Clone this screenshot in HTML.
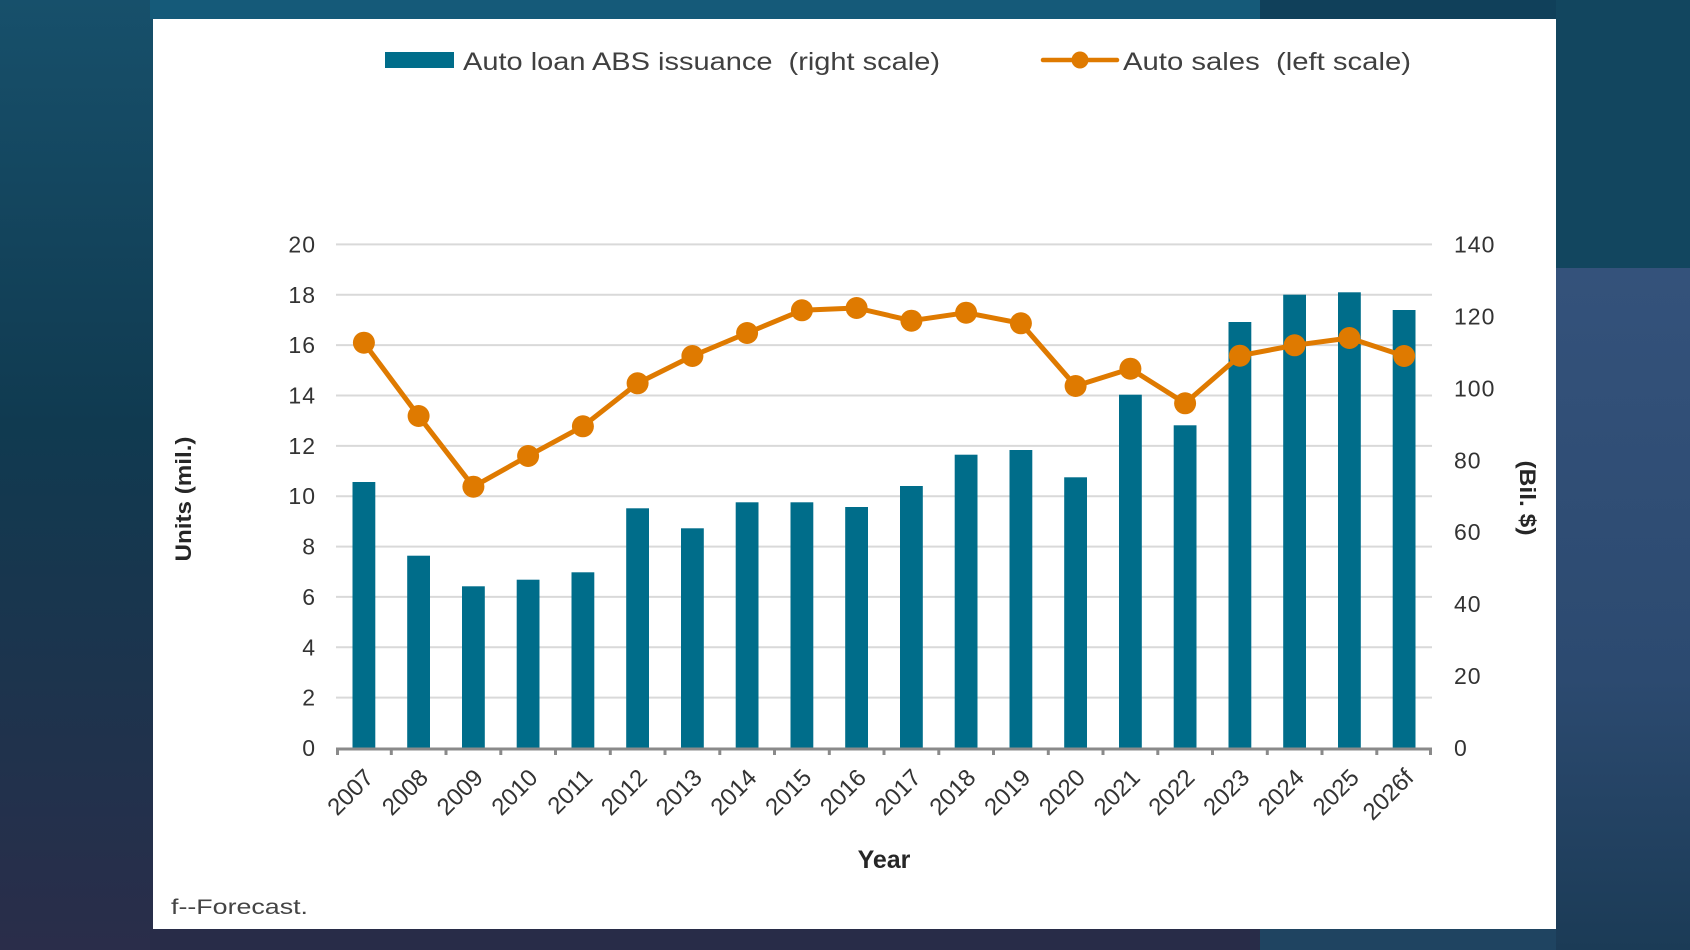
<!DOCTYPE html>
<html><head><meta charset="utf-8">
<style>
html,body{margin:0;padding:0;width:1690px;height:950px;overflow:hidden;background:#1a3a52;}
svg{display:block;}
text{font-family:"Liberation Sans",sans-serif;}
</style></head>
<body>
<svg width="1690" height="950" viewBox="0 0 1690 950" xmlns="http://www.w3.org/2000/svg">
<defs>
<linearGradient id="bgL" x1="0" y1="0" x2="0" y2="1">
<stop offset="0" stop-color="#17506b"/>
<stop offset="0.45" stop-color="#103a50"/>
<stop offset="1" stop-color="#2a2d4a"/>
</linearGradient>
<linearGradient id="bgR" x1="0" y1="0" x2="0" y2="1">
<stop offset="0" stop-color="#34527b"/>
<stop offset="0.6" stop-color="#2c4a70"/>
<stop offset="1" stop-color="#1b3b56"/>
</linearGradient>
</defs>
<rect x="0" y="0" width="1690" height="950" fill="url(#bgL)"/>
<rect x="150" y="0" width="1110" height="19" fill="#155a79"/>
<rect x="1260" y="0" width="430" height="19" fill="#10405a"/>
<rect x="1556" y="0" width="134" height="268" fill="#12465f"/>
<rect x="1556" y="268" width="134" height="682" fill="url(#bgR)"/>
<rect x="150" y="929" width="1110" height="21" fill="#282c48"/>
<rect x="1260" y="929" width="296" height="21" fill="#1f4461"/>

<!-- card -->
<rect x="153" y="19" width="1403" height="910" fill="#ffffff"/>

<!-- legend -->
<rect x="385" y="52" width="69" height="16" fill="#006d8a"/>
<text x="463" y="70" font-size="25" fill="#404040" textLength="477" lengthAdjust="spacingAndGlyphs" style="white-space:pre" xml:space="preserve">Auto loan ABS issuance  (right scale)</text>
<line x1="1043" y1="60" x2="1117" y2="60" stroke="#df7a00" stroke-width="4.5" stroke-linecap="round"/>
<circle cx="1080" cy="60" r="8.5" fill="#df7a00"/>
<text x="1123" y="70" font-size="25" fill="#404040" textLength="288" lengthAdjust="spacingAndGlyphs" style="white-space:pre" xml:space="preserve">Auto sales  (left scale)</text>

<!-- gridlines -->
<g stroke="#d9d9d9" stroke-width="2">
<line x1="336" y1="244.4" x2="1432" y2="244.4"/>
<line x1="336" y1="294.8" x2="1432" y2="294.8"/>
<line x1="336" y1="345.1" x2="1432" y2="345.1"/>
<line x1="336" y1="395.5" x2="1432" y2="395.5"/>
<line x1="336" y1="445.9" x2="1432" y2="445.9"/>
<line x1="336" y1="496.2" x2="1432" y2="496.2"/>
<line x1="336" y1="546.6" x2="1432" y2="546.6"/>
<line x1="336" y1="596.9" x2="1432" y2="596.9"/>
<line x1="336" y1="647.3" x2="1432" y2="647.3"/>
<line x1="336" y1="697.6" x2="1432" y2="697.6"/>
</g>

<!-- bars -->
<g fill="#006d8a">
<rect x="352.5" y="482" width="22.8" height="266"/>
<rect x="407.2" y="555.7" width="22.8" height="192.3"/>
<rect x="462" y="586.3" width="22.8" height="161.7"/>
<rect x="516.7" y="579.7" width="22.8" height="168.3"/>
<rect x="571.5" y="572.3" width="22.8" height="175.7"/>
<rect x="626.2" y="508.3" width="22.8" height="239.7"/>
<rect x="681" y="528.3" width="22.8" height="219.7"/>
<rect x="735.7" y="502.3" width="22.8" height="245.7"/>
<rect x="790.5" y="502.3" width="22.8" height="245.7"/>
<rect x="845.2" y="507" width="22.8" height="241"/>
<rect x="900" y="486" width="22.8" height="262"/>
<rect x="954.7" y="454.7" width="22.8" height="293.3"/>
<rect x="1009.5" y="450" width="22.8" height="298"/>
<rect x="1064.2" y="477.3" width="22.8" height="270.7"/>
<rect x="1119" y="394.7" width="22.8" height="353.3"/>
<rect x="1173.7" y="425.3" width="22.8" height="322.7"/>
<rect x="1228.5" y="322" width="22.8" height="426"/>
<rect x="1283.2" y="294.7" width="22.8" height="453.3"/>
<rect x="1338" y="292.3" width="22.8" height="455.7"/>
<rect x="1392.7" y="310" width="22.8" height="438"/>
</g>

<!-- x axis -->
<line x1="336" y1="749" x2="1432" y2="749" stroke="#8a8a8a" stroke-width="3"/>
<g stroke="#8a8a8a" stroke-width="3">
<line x1="337.5" y1="749" x2="337.5" y2="755"/>
<line x1="391.3" y1="749" x2="391.3" y2="755"/>
<line x1="446" y1="749" x2="446" y2="755"/>
<line x1="500.8" y1="749" x2="500.8" y2="755"/>
<line x1="555.5" y1="749" x2="555.5" y2="755"/>
<line x1="610.3" y1="749" x2="610.3" y2="755"/>
<line x1="665" y1="749" x2="665" y2="755"/>
<line x1="719.8" y1="749" x2="719.8" y2="755"/>
<line x1="774.5" y1="749" x2="774.5" y2="755"/>
<line x1="829.3" y1="749" x2="829.3" y2="755"/>
<line x1="884" y1="749" x2="884" y2="755"/>
<line x1="938.8" y1="749" x2="938.8" y2="755"/>
<line x1="993.5" y1="749" x2="993.5" y2="755"/>
<line x1="1048.3" y1="749" x2="1048.3" y2="755"/>
<line x1="1103" y1="749" x2="1103" y2="755"/>
<line x1="1157.8" y1="749" x2="1157.8" y2="755"/>
<line x1="1212.5" y1="749" x2="1212.5" y2="755"/>
<line x1="1267.3" y1="749" x2="1267.3" y2="755"/>
<line x1="1322" y1="749" x2="1322" y2="755"/>
<line x1="1376.8" y1="749" x2="1376.8" y2="755"/>
<line x1="1430.5" y1="749" x2="1430.5" y2="755"/>
</g>

<!-- line series -->
<polyline fill="none" stroke="#df7a00" stroke-width="5" stroke-linejoin="round"
points="363.9,342.7 418.6,416 473.4,486.7 528.1,456 582.9,426.3 637.6,383.3 692.4,356 747.1,333 801.9,310.3 856.6,308 911.4,320.7 966.1,312.7 1020.9,323.3 1075.6,386 1130.4,368.7 1185.1,403.3 1239.9,355.7 1294.6,345.3 1349.4,338 1404.1,356"/>
<g fill="#df7a00">
<circle cx="363.9" cy="342.7" r="11"/>
<circle cx="418.6" cy="416" r="11"/>
<circle cx="473.4" cy="486.7" r="11"/>
<circle cx="528.1" cy="456" r="11"/>
<circle cx="582.9" cy="426.3" r="11"/>
<circle cx="637.6" cy="383.3" r="11"/>
<circle cx="692.4" cy="356" r="11"/>
<circle cx="747.1" cy="333" r="11"/>
<circle cx="801.9" cy="310.3" r="11"/>
<circle cx="856.6" cy="308" r="11"/>
<circle cx="911.4" cy="320.7" r="11"/>
<circle cx="966.1" cy="312.7" r="11"/>
<circle cx="1020.9" cy="323.3" r="11"/>
<circle cx="1075.6" cy="386" r="11"/>
<circle cx="1130.4" cy="368.7" r="11"/>
<circle cx="1185.1" cy="403.3" r="11"/>
<circle cx="1239.9" cy="355.7" r="11"/>
<circle cx="1294.6" cy="345.3" r="11"/>
<circle cx="1349.4" cy="338" r="11"/>
<circle cx="1404.1" cy="356" r="11"/>
</g>

<!-- left tick labels -->
<g font-size="23" fill="#333333" text-anchor="end" letter-spacing="1">
<text x="316" y="252.4">20</text>
<text x="316" y="302.8">18</text>
<text x="316" y="353.1">16</text>
<text x="316" y="403.5">14</text>
<text x="316" y="453.9">12</text>
<text x="316" y="504.2">10</text>
<text x="316" y="554.6">8</text>
<text x="316" y="604.9">6</text>
<text x="316" y="655.3">4</text>
<text x="316" y="705.6">2</text>
<text x="316" y="756">0</text>
</g>
<!-- right tick labels -->
<g font-size="23" fill="#333333" letter-spacing="1">
<text x="1454" y="252.6">140</text>
<text x="1454" y="324.5">120</text>
<text x="1454" y="396.4">100</text>
<text x="1454" y="468.3">80</text>
<text x="1454" y="540.2">60</text>
<text x="1454" y="612.2">40</text>
<text x="1454" y="684.1">20</text>
<text x="1454" y="756">0</text>
</g>

<!-- x labels -->
<g font-size="24" fill="#333333" text-anchor="end">
<text transform="translate(375,779) rotate(-45)">2007</text>
<text transform="translate(429.6,779) rotate(-45)">2008</text>
<text transform="translate(484.4,779) rotate(-45)">2009</text>
<text transform="translate(539.1,779) rotate(-45)">2010</text>
<text transform="translate(593.9,779) rotate(-45)">2011</text>
<text transform="translate(648.6,779) rotate(-45)">2012</text>
<text transform="translate(703.4,779) rotate(-45)">2013</text>
<text transform="translate(758.1,779) rotate(-45)">2014</text>
<text transform="translate(812.9,779) rotate(-45)">2015</text>
<text transform="translate(867.6,779) rotate(-45)">2016</text>
<text transform="translate(922.4,779) rotate(-45)">2017</text>
<text transform="translate(977.1,779) rotate(-45)">2018</text>
<text transform="translate(1031.9,779) rotate(-45)">2019</text>
<text transform="translate(1086.6,779) rotate(-45)">2020</text>
<text transform="translate(1141.4,779) rotate(-45)">2021</text>
<text transform="translate(1196.1,779) rotate(-45)">2022</text>
<text transform="translate(1250.9,779) rotate(-45)">2023</text>
<text transform="translate(1305.6,779) rotate(-45)">2024</text>
<text transform="translate(1360.4,779) rotate(-45)">2025</text>
<text transform="translate(1415.1,779) rotate(-45)">2026f</text>
</g>

<!-- axis titles -->
<text x="884" y="868" font-size="25" font-weight="bold" fill="#262626" text-anchor="middle">Year</text>
<text transform="translate(191,499) rotate(-90)" font-size="22" font-weight="bold" fill="#262626" text-anchor="middle" textLength="125" lengthAdjust="spacingAndGlyphs">Units (mil.)</text>
<text transform="translate(1520,498) rotate(90)" font-size="22" font-weight="bold" fill="#262626" text-anchor="middle" textLength="75" lengthAdjust="spacingAndGlyphs">(Bil. $)</text>

<!-- footnote -->
<text x="171" y="914" font-size="21" fill="#444444" textLength="137" lengthAdjust="spacingAndGlyphs">f--Forecast.</text>
</svg>
</body></html>
